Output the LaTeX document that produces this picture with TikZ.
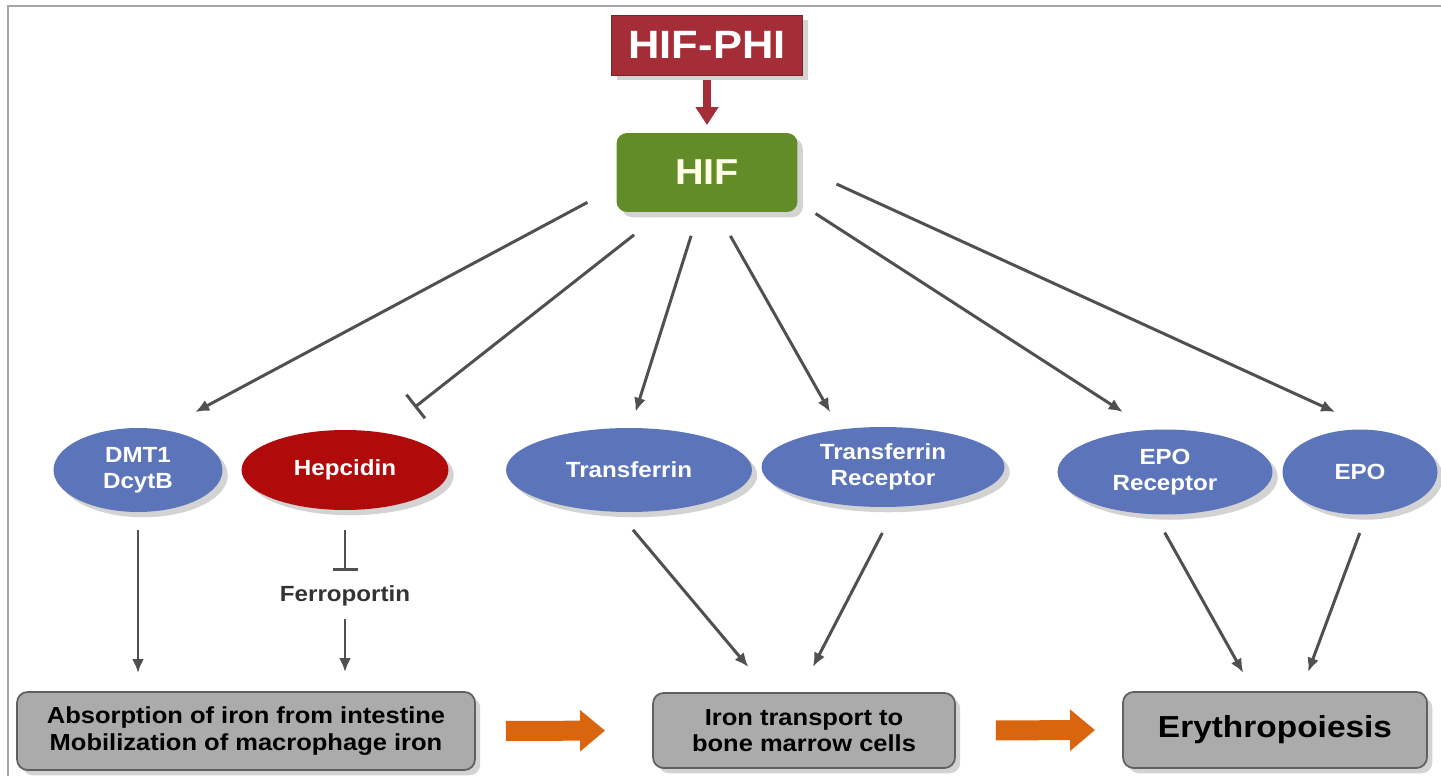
\documentclass[tikz,border=0pt]{standalone}
\usepackage{fontspec}
\setmainfont[FakeStretch = 1.1]{Liberation Sans}
\usetikzlibrary{arrows.meta, shapes.geometric, shadows}

\definecolor{phired}{HTML}{A52D37}
\definecolor{hifgreen}{HTML}{628C28}
\definecolor{ovalblue}{HTML}{5C74BA}
\definecolor{hepred}{HTML}{B00A0A}
\definecolor{boxgray}{HTML}{ABABAB}
\definecolor{linegray}{HTML}{505050}
\definecolor{floworange}{HTML}{D9650F}

\begin{document}
\begin{tikzpicture}[x = 0.02cm, y = -0.02cm, font = \bfseries,
	shadowed/.style = {drop shadow = {opacity = 0.35, shadow xshift = 3pt, shadow yshift = -3pt}},
	oval/.style = {ellipse, fill = ovalblue, text = white, inner sep = 0pt, outer sep = 0pt, align = center, font = \fontsize{12.5}{15}\selectfont\bfseries, shadowed},
	result/.style = {rectangle, rounded corners = 6pt, draw = gray!75!black, line width = 1pt, fill = boxgray, inner sep = 0pt, outer sep = 0pt, align = center, shadowed},
	link/.style = {draw = linegray, line width = 1.7pt, -{Latex[length = 0.28cm, width = 0.24cm]}},
	block/.style = {draw = linegray, line width = 1.7pt, -{Bar[width = 0.6cm]}},
	flow/.style = {draw = floworange, line width = 0.4cm, -{Triangle[length = 0.5cm, width = 0.8cm]}}
]

\useasboundingbox (0, 0) rectangle (1441, 776);

\draw [gray!70, line width = 1pt] (8, 776) |- (1441, 6);

\node [rectangle, fill = phired, draw = phired!75!black, minimum width = 3.82cm, minimum height = 1.2cm, outer sep = 0pt, text = white, font = \fontsize{22.5}{27}\selectfont\bfseries, shadowed] (phi) at (707, 45) {HIF-PHI};

\node [rectangle, rounded corners = 6pt, fill = hifgreen, minimum width = 3.62cm, minimum height = 1.58cm, outer sep = 0pt, text = green!5!yellow!10, font = \fontsize{20.5}{25}\selectfont\bfseries, shadowed] (hif) at (707, 172.5) {HIF};

\draw [draw = phired, line width = 4pt, -{Triangle[length = 0.36cm, width = 0.44cm]}, shorten < = 0.1cm, shorten > = 0.16cm] (phi) -- (hif);

\node [oval, minimum width = 3.38cm, minimum height = 1.68cm] (dmt) at (138, 470) {DMT1\\DcytB};
\node [oval, fill = hepred, minimum width = 4.14cm, minimum height = 1.6cm] (hep) at (345, 470) {Hepcidin};
\node [oval, minimum width = 4.92cm, minimum height = 1.68cm] (tf) at (629, 470) {Transferrin};
\node [oval, minimum width = 4.86cm, minimum height = 1.6cm] (tfr) at (883, 467) {Transferrin\\Receptor};
\node [oval, minimum width = 4.3cm, minimum height = 1.7cm] (epor) at (1165, 472) {EPO\\Receptor};
\node [oval, minimum width = 3.1cm, minimum height = 1.7cm] (epo) at (1360, 472) {EPO};

\node [inner sep = 0pt, text = black!80, font = \fontsize{12.5}{15}\selectfont\bfseries] (fpn) at (345, 596) {Ferroportin};

\node [result, minimum width = 9.16cm, minimum height = 1.56cm, font = \fontsize{13.2}{15.1}\selectfont\bfseries] (box1) at (246, 731) {Absorption of iron from intestine\\Mobilization of macrophage iron};
\node [result, minimum width = 6.04cm, minimum height = 1.5cm, font = \fontsize{13.2}{15.1}\selectfont\bfseries] (box2) at (804, 730.5) {Iron transport to\\bone marrow cells};
\node [result, minimum width = 6.08cm, minimum height = 1.52cm, font = \fontsize{17.3}{20}\selectfont\bfseries] (box3) at (1275, 730) {Erythropoiesis};

\draw [link, shorten < = 0.66cm, shorten > = 0.75cm] (hif.189.2) -- (dmt.59.3);
\draw [block, shorten < = 0.74cm, shorten > = 0.82cm] (hif.222.3) -- (hep.45.5);
\draw [link, shorten < = 0.5cm, shorten > = 0.34cm] (hif.258) -- (tf.88.6);
\draw [link, shorten < = 0.55cm, shorten > = 0.4cm] (hif.284.6) -- (tfr.139);
\draw [link, shorten < = 0.43cm, shorten > = 0.66cm] (hif.342.7) -- (epor.109);
\draw [link, shorten < = 0.86cm, shorten > = 0.88cm] (hif.4.3) -- (epo.70.5);

\draw [link, shorten < = 0.36cm, shorten > = 0.38cm] (dmt.south) -- (dmt.south |- box1.north);
\draw [block, -{Bar[width = 0.5cm]}, shorten < = 0.4cm, shorten > = 0.28cm] (hep.south) -- (fpn.north);
\draw [link, shorten < = 0.24cm, shorten > = 0.4cm] (fpn.south) -- (fpn.south |- box1.north);

\draw [link, shorten < = 0.47cm, shorten > = 0.68cm] (tf.255.3) -- (box2.132.2);
\draw [link, shorten < = 0.59cm, shorten > = 0.59cm] (tfr.288.9) -- (box2.97);
\draw [link, shorten < = 0.42cm, shorten > = 0.44cm] (epor.256.3) -- (box3.119.4);
\draw [link, shorten < = 0.4cm, shorten > = 0.43cm] (epo.279.3) -- (box3.56.1);

\draw [flow, shorten < = 0.62cm, shorten > = 0.96cm] (box1.east) -- (box2.west);
\draw [flow, shorten < = 0.82cm, shorten > = 0.56cm] (box2.east) -- (box3.west);

\end{tikzpicture}
\end{document}
